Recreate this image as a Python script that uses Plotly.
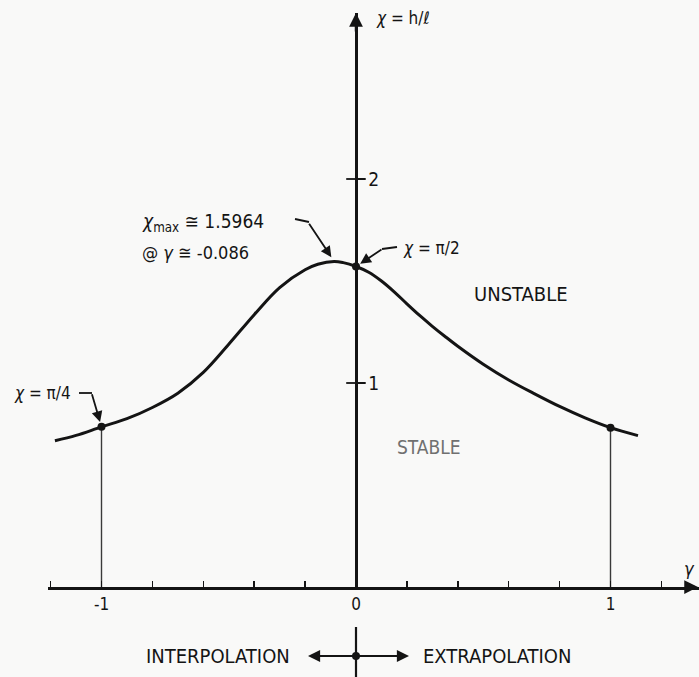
import plotly.graph_objects as go

# ---------------- data ----------------
gamma = [-1.183, -1.10, -1.00, -0.90, -0.80, -0.70, -0.60, -0.50, -0.40, -0.30,
         -0.20, -0.15, -0.086, -0.05, 0.00, 0.05, 0.10, 0.15, 0.20, 0.25, 0.30,
         0.35, 0.40, 0.50, 0.60, 0.70, 0.80, 0.90, 1.00, 1.108]
chi = [0.717, 0.743, 0.785, 0.825, 0.880, 0.950, 1.052, 1.190, 1.335, 1.468,
       1.555, 1.582, 1.596, 1.590, 1.571, 1.543, 1.500, 1.447, 1.388, 1.331, 1.278,
       1.228, 1.180, 1.092, 1.015, 0.948, 0.885, 0.829, 0.781, 0.742]

mark_gamma = [-1.0, 0.0, 1.0]
mark_chi = [0.785, 1.571, 0.781]

chi_max_gamma = -0.086
chi_max = 1.5964

xtick_vals = [-1, 0, 1]
xtick_text = ["-1", "0", "1"]
ytick_vals = [1, 2]
ytick_text = ["1", "2"]

# ---------------- layout geometry ----------------
W, H = 699, 677
L, T, B = 48, 13, 90
PLOT_W = W - L
PLOT_H = H - T - B
PX_PER_G = 254.5
G0_PX = 356
PX_PER_C = 204.0

x_range = [(L - G0_PX) / PX_PER_G, (W - G0_PX) / PX_PER_G]
y_range = [0, PLOT_H / PX_PER_C]

def pxx(x):
    return (x - L) / PLOT_W

def pxy(y):
    return (H - B - y) / PLOT_H

FONT = "Liberation Sans Narrow, DejaVu Sans Condensed, Arial Narrow, sans-serif"
INK = "#141414"

fig = go.Figure()

# curve
fig.add_trace(go.Scatter(x=gamma, y=chi, mode="lines",
                         line=dict(color=INK, width=3, shape="spline", smoothing=1.0),
                         hoverinfo="skip", showlegend=False))
# vertical drop lines at gamma = -1 and 1
for g, c in zip(mark_gamma, mark_chi):
    if g != 0:
        fig.add_trace(go.Scatter(x=[g, g], y=[0, c], mode="lines",
                                 line=dict(color="#3a3a3a", width=1.4),
                                 hoverinfo="skip", showlegend=False))
# marked points
fig.add_trace(go.Scatter(x=mark_gamma, y=mark_chi, mode="markers",
                         marker=dict(size=8, color=INK),
                         hoverinfo="skip", showlegend=False, cliponaxis=False))

# small crossing ticks on the vertical axis (left half)
fig.add_trace(go.Scatter(x=[0] * len(ytick_vals), y=ytick_vals, mode="markers",
                         marker=dict(symbol="line-ew", size=14,
                                     line=dict(color=INK, width=1.8)),
                         hoverinfo="skip", showlegend=False))

ann = []

def text(x, y, s, size=18, anchor="left", color=INK):
    ann.append(dict(xref="paper", yref="paper", x=pxx(x), y=pxy(y), text=s,
                    showarrow=False, xanchor=anchor, yanchor="middle",
                    font=dict(family=FONT, size=size, color=color)))

# axis arrows
ann.append(dict(xref="paper", yref="paper", x=pxx(699), y=0, ax=-14, ay=0,
                text="", showarrow=True, arrowhead=2, arrowsize=1.1,
                arrowwidth=2.5, arrowcolor=INK))
ann.append(dict(xref="x", yref="paper", x=0, y=1.0, ax=0, ay=20,
                text="", showarrow=True, arrowhead=2, arrowsize=1.1,
                arrowwidth=2.5, arrowcolor=INK))

# labels
text(374, 18, "<i>χ</i> = h/ℓ", 17)
text(697, 568, "<i>γ</i>", 18, "right")
text(12, 393, "<i>χ</i> = π/4", 17)
text(140, 222, "<i>χ</i><sub>max</sub> ≅ 1.5964", 19)
text(140, 252, "@ <i>γ</i> ≅ -0.086", 18)
text(401, 248, "<i>χ</i> = π/2", 17)
text(521, 294, "UNSTABLE", 20, "center")
text(429, 447, "STABLE", 19, "center", "#707070")
text(218, 656, "INTERPOLATION", 20, "center")
text(497, 656, "EXTRAPOLATION", 20, "center")

# leader arrows
def leader(xd, yd, ax, ay):
    ann.append(dict(xref="x", yref="y", x=xd, y=yd, ax=ax, ay=ay, text="",
                    showarrow=True, arrowhead=2, arrowsize=1.2, arrowwidth=1.8,
                    arrowcolor=INK, standoff=5))

leader(mark_gamma[0], mark_chi[0], -10, -34)
leader(chi_max_gamma, chi_max, -26, -39)
leader(mark_gamma[1], mark_chi[1], 27, -18)

shapes = []
def seg(x0, y0, x1, y1, w=1.8):
    shapes.append(dict(type="line", xref="paper", yref="paper",
                       x0=pxx(x0), y0=pxy(y0), x1=pxx(x1), y1=pxy(y1),
                       line=dict(color=INK, width=w)))

seg(79, 393, 92, 393)
seg(295, 219, 309, 222)
seg(382, 249, 397, 247)

# interpolation / extrapolation marker
shapes.append(dict(type="line", xref="x", yref="paper", x0=0, x1=0,
                   y0=pxy(627), y1=pxy(677), line=dict(color=INK, width=2.2)))
ann.append(dict(xref="x", yref="paper", x=(308 - G0_PX) / PX_PER_G, y=pxy(656),
                ax=48, ay=0, text="", showarrow=True, arrowhead=2, arrowsize=1.1,
                arrowwidth=2.2, arrowcolor=INK))
ann.append(dict(xref="x", yref="paper", x=(409 - G0_PX) / PX_PER_G, y=pxy(656),
                ax=-53, ay=0, text="", showarrow=True, arrowhead=2, arrowsize=1.1,
                arrowwidth=2.2, arrowcolor=INK))
shapes.append(dict(type="circle", xref="x", yref="paper", xsizemode="pixel",
                   ysizemode="pixel", xanchor=0, yanchor=pxy(656),
                   x0=-4, x1=4, y0=-4, y1=4, fillcolor=INK, line=dict(width=0)))

BG = "#f9f9f8"
fig.update_layout(
    width=W, height=H, autosize=False,
    margin=dict(l=L, r=0, t=T, b=B, pad=0),
    paper_bgcolor=BG, plot_bgcolor=BG,
    showlegend=False,
    annotations=ann, shapes=shapes,
    xaxis=dict(range=x_range, showgrid=False, zeroline=False, showline=True,
               linecolor=INK, linewidth=2.5, tickmode="array",
               tickvals=xtick_vals, ticktext=xtick_text, ticks="inside",
               ticklen=6, tickwidth=1.5, tickcolor=INK,
               minor=dict(ticks="inside", dtick=0.2, tick0=0, ticklen=6,
                          tickwidth=1.5, tickcolor=INK, showgrid=False),
               tickfont=dict(family=FONT, size=17, color=INK),
               automargin=False, fixedrange=True),
    yaxis=dict(range=y_range, showgrid=False, zeroline=False, showline=True,
               linecolor=INK, linewidth=2.5, anchor="free",
               position=(G0_PX - L) / PLOT_W, side="right",
               tickmode="array", tickvals=ytick_vals, ticktext=ytick_text,
               ticks="outside", ticklen=7, tickwidth=1.8, tickcolor=INK,
               tickfont=dict(family=FONT, size=19, color=INK),
               automargin=False, fixedrange=True),
)

fig.write_html(
    "out.html",
    config={"displayModeBar": False, "staticPlot": True},
    post_script="document.body.style.margin='0';document.body.style.padding='0';"
                "document.documentElement.style.overflow='hidden';",
)
